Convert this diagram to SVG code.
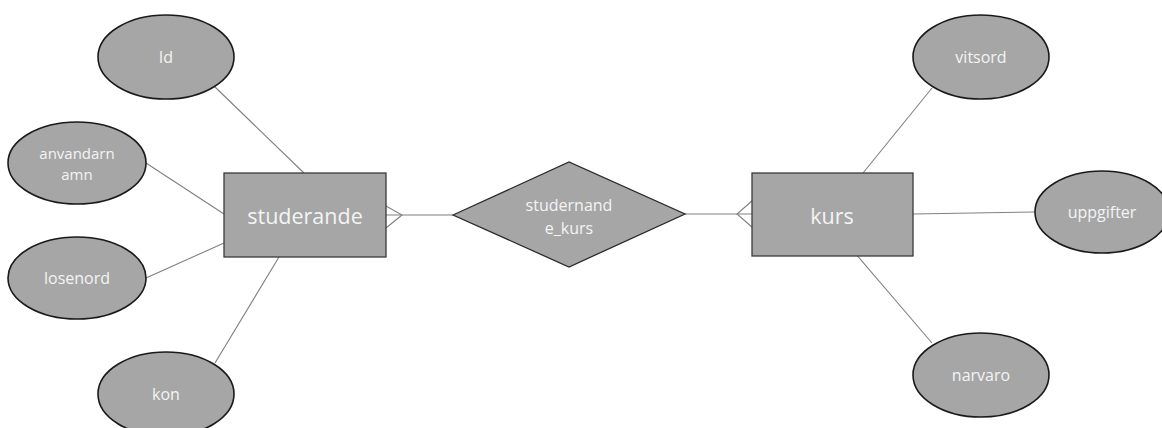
<svg xmlns="http://www.w3.org/2000/svg" width="1162" height="428" viewBox="0 0 1162 428">
<style>
.bg{fill:#ffffff}
.attr{fill:#a6a6a6;stroke:#1a1a1a;stroke-width:1.6}
.ent{fill:#a6a6a6;stroke:#3a3a3a;stroke-width:1.3}
.rel{fill:#a6a6a6;stroke:#2a2a2a;stroke-width:1.3}
.ln{stroke:#808080;stroke-width:1.1;fill:none}
text{font-family:"Open Sans","Liberation Sans",sans-serif;fill:#f4f4f4;text-anchor:middle;dominant-baseline:central}
.t16{font-size:16px}
.t15{font-size:15px}
.t21{font-size:21.5px}
</style>
<rect class="bg" x="0" y="0" width="1162" height="428"/>
<g id="connectors">
<line class="ln" x1="215" y1="87" x2="304" y2="173"/>
<line class="ln" x1="146" y1="163" x2="224" y2="214"/>
<line class="ln" x1="146" y1="278" x2="224" y2="243"/>
<line class="ln" x1="215" y1="363" x2="279" y2="257"/>
<line class="ln" x1="386" y1="215" x2="453" y2="215"/>
<polyline class="ln" points="386,206 402,215 386,228"/>
<line class="ln" x1="685" y1="214" x2="752" y2="214"/>
<polyline class="ln" points="753,200 737,214 753,228"/>
<line class="ln" x1="932" y1="88" x2="863" y2="173"/>
<line class="ln" x1="913" y1="214" x2="1035" y2="212"/>
<line class="ln" x1="855" y1="253" x2="932" y2="343"/>
</g>
<g id="id">
<ellipse class="attr" cx="166" cy="57" rx="68" ry="42"/>
<text class="t16" x="166" y="57">Id</text>
</g>
<g id="anvandarnamn">
<ellipse class="attr" cx="77" cy="163" rx="69" ry="41"/>
<text class="t15" x="77" y="153">anvandarn</text>
<text class="t15" x="77" y="174">amn</text>
</g>
<g id="losenord">
<ellipse class="attr" cx="77" cy="278" rx="69" ry="41"/>
<text class="t16" x="77" y="278">losenord</text>
</g>
<g id="kon">
<ellipse class="attr" cx="166" cy="394" rx="68" ry="42"/>
<text class="t16" x="166" y="394">kon</text>
</g>
<g id="studerande">
<rect class="ent" x="224" y="173" width="162" height="84"/>
<text class="t21" x="305" y="215">studerande</text>
</g>
<g id="studernande_kurs">
<polygon class="rel" points="453,215 569,162 685,214 569,267"/>
<text class="t16" x="569" y="205">studernand</text>
<text class="t16" x="569" y="228">e_kurs</text>
</g>
<g id="kurs">
<rect class="ent" x="752" y="173" width="161" height="83"/>
<text class="t21" x="832" y="215">kurs</text>
</g>
<g id="vitsord">
<ellipse class="attr" cx="981" cy="57" rx="68" ry="42"/>
<text class="t16" x="981" y="57">vitsord</text>
</g>
<g id="uppgifter">
<ellipse class="attr" cx="1102" cy="212" rx="67" ry="41"/>
<text class="t16" x="1102" y="212">uppgifter</text>
</g>
<g id="narvaro">
<ellipse class="attr" cx="981" cy="375" rx="68" ry="42"/>
<text class="t16" x="981" y="375">narvaro</text>
</g>
</svg>
